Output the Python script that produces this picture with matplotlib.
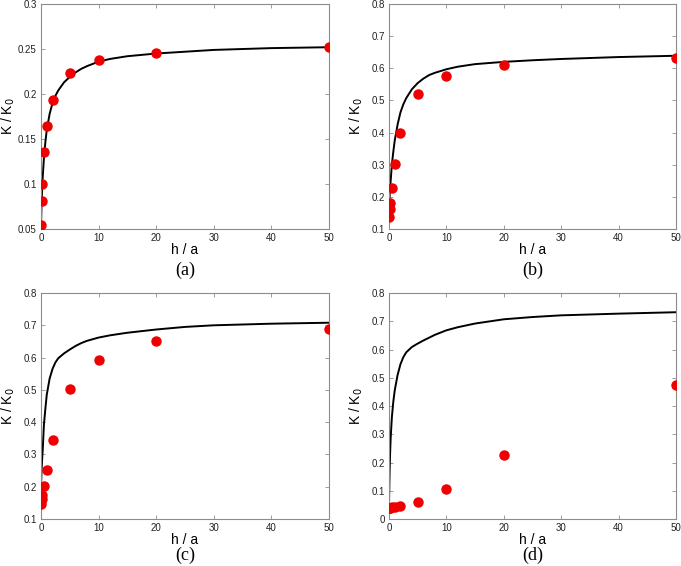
"""
Four-panel K/K0 vs h/a comparison: model curve (black) and simulation points (red).
"""
import matplotlib
matplotlib.use("Agg")
import matplotlib.pyplot as plt
from matplotlib.ticker import FormatStrFormatter

plt.rcParams["font.family"] = ["Liberation Sans", "DejaVu Sans"]

# ── Data ─────────────────────────────────────────────────────────────────────
h_pts = [0.05, 0.1, 0.2, 0.5, 1, 2, 5, 10, 20, 50]

pts_a = [0.054, 0.081, 0.100, 0.136, 0.165, 0.193, 0.223, 0.238, 0.246, 0.252]
pts_b = [0.138, 0.163, 0.180, 0.229, 0.301, 0.400, 0.519, 0.576, 0.610, 0.633]
pts_c = [0.148, 0.162, 0.174, 0.203, 0.252, 0.344, 0.503, 0.594, 0.650, 0.689]
pts_d = [0.038, 0.039, 0.040, 0.042, 0.042, 0.045, 0.061, 0.106, 0.226, 0.475]

h_curve = [0, 0.1, 0.2, 0.3, 0.5, 0.75, 1, 1.5, 2, 2.5, 3, 4, 5, 6, 7, 8,
           10, 12, 15, 20, 25, 30, 40, 50]

curve_a = [0.053, 0.078, 0.095, 0.108, 0.128, 0.146, 0.160, 0.178, 0.190, 0.198,
           0.204, 0.213, 0.219, 0.224, 0.228, 0.231, 0.236, 0.239, 0.242, 0.245,
           0.247, 0.249, 0.251, 0.252]
curve_b = [0.170, 0.200, 0.230, 0.252, 0.300, 0.340, 0.375, 0.425, 0.463, 0.488,
           0.507, 0.535, 0.554, 0.568, 0.579, 0.586, 0.597, 0.605, 0.613, 0.620,
           0.625, 0.629, 0.635, 0.639]
curve_c = [0.200, 0.250, 0.285, 0.315, 0.390, 0.440, 0.485, 0.535, 0.565, 0.585,
           0.598, 0.613, 0.625, 0.636, 0.645, 0.652, 0.662, 0.669, 0.677, 0.687,
           0.695, 0.700, 0.705, 0.708]
curve_d = [0.050, 0.160, 0.235, 0.290, 0.360, 0.415, 0.455, 0.510, 0.548, 0.573,
           0.590, 0.609, 0.621, 0.632, 0.642, 0.652, 0.668, 0.679, 0.692, 0.707,
           0.715, 0.721, 0.727, 0.732]

panels = [
    ("(a)", curve_a, pts_a, (0.05, 0.3), [0.05, 0.1, 0.15, 0.2, 0.25, 0.3]),
    ("(b)", curve_b, pts_b, (0.1, 0.8), [0.1, 0.2, 0.3, 0.4, 0.5, 0.6, 0.7, 0.8]),
    ("(c)", curve_c, pts_c, (0.1, 0.8), [0.1, 0.2, 0.3, 0.4, 0.5, 0.6, 0.7, 0.8]),
    ("(d)", curve_d, pts_d, (0.0, 0.8), [0, 0.1, 0.2, 0.3, 0.4, 0.5, 0.6, 0.7, 0.8]),
]

# axes rectangles in figure fractions, and where the panel tag sits below each
rects = [
    [0.0602, 0.5954, 0.4229, 0.3975],
    [0.5712, 0.5954, 0.4214, 0.3975],
    [0.0602, 0.0830, 0.4229, 0.3993],
    [0.5712, 0.0830, 0.4214, 0.3993],
]
tag_y = [-0.182, -0.182, -0.16, -0.16]

fig = plt.figure(figsize=(6.81, 5.66), dpi=100)

for (tag, curve, pts, ylim, yticks), rect, ty in zip(panels, rects, tag_y):
    ax = fig.add_axes(rect)
    ax.plot(h_curve, curve, color="black", lw=1.4, zorder=2)
    ax.plot(h_pts, pts, "o", color="#ee0000", ms=6.5, mec="#ee0000", zorder=3)

    ax.set_xlim(0, 50)
    ax.set_ylim(*ylim)
    ax.set_xticks([0, 10, 20, 30, 40, 50])
    ax.set_yticks(yticks)
    ax.yaxis.set_major_formatter(FormatStrFormatter("%g"))

    for s in ax.spines.values():
        s.set_color("#8c8c8c")
        s.set_linewidth(0.8)
    ax.tick_params(direction="in", top=True, right=True, length=3, width=0.6,
                   color="#8c8c8c", labelsize=7, labelcolor="#222222", pad=3)

    ax.set_xlabel("h / a", fontsize=10, labelpad=0)
    ax.set_ylabel("K / K$_0$", fontsize=10)
    ax.yaxis.set_label_coords(-0.082, 0.5)
    ax.text(0.5, ty, tag, transform=ax.transAxes, ha="center", va="center",
            fontsize=13, family=["Liberation Serif", "DejaVu Serif"])

fig.savefig("out.png", dpi=100)
plt.close(fig)
